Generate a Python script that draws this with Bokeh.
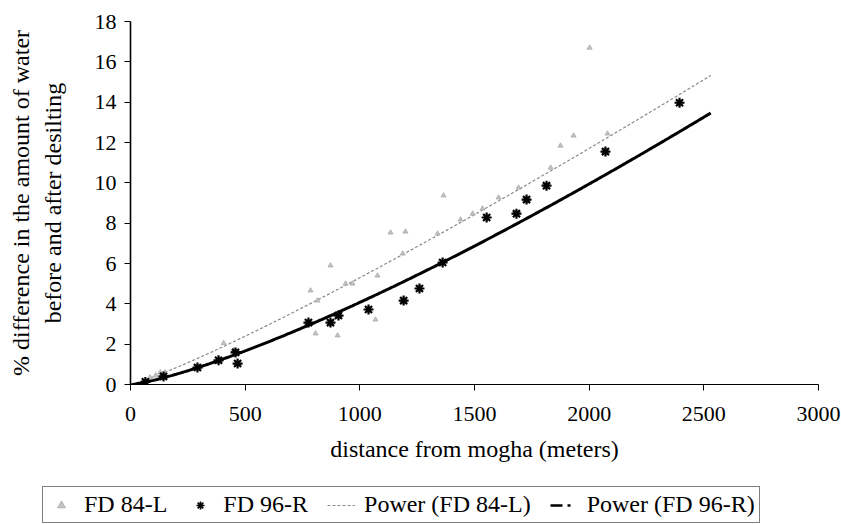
import numpy as np
from bokeh.plotting import figure
from bokeh.layouts import column
from bokeh.models import Range1d, FixedTicker, Legend, LegendItem
from bokeh.embed import file_html
from bokeh.resources import INLINE

# FD 84-L observations (distance m, % difference)
fd84_x = [85, 110, 130, 150, 406, 450, 785, 807, 815, 872, 903, 938, 968, 1068, 1077,
          1134, 1187, 1199, 1339, 1365, 1439, 1492, 1535, 1605, 1692, 1832, 1875, 1932, 2002, 2080]
fd84_y = [0.35, 0.45, 0.6, 0.6, 2.05, 1.7, 4.66, 2.53, 4.16, 5.9, 2.43, 5.0, 5.0, 3.22, 5.4,
          7.53, 6.49, 7.58, 7.48, 9.37, 8.18, 8.47, 8.72, 9.27, 9.76, 10.75, 11.84, 12.34, 16.7, 12.44]

# FD 96-R observations
fd96_x = [65, 144, 292, 384, 458, 467, 776, 872, 907, 1038, 1191, 1260, 1361,
          1553, 1683, 1727, 1814, 2071, 2394]
fd96_y = [0.13, 0.4, 0.84, 1.2, 1.59, 1.04, 3.07, 3.07, 3.42, 3.72, 4.16, 4.76, 6.05,
          8.28, 8.47, 9.17, 9.86, 11.55, 13.97]

x_ticks = [0, 500, 1000, 1500, 2000, 2500, 3000]
y_ticks = [0, 2, 4, 6, 8, 10, 12, 14, 16, 18]
trend_end = 2530
labels = ["FD 84-L", "FD 96-R", "Power (FD 84-L)", "Power (FD 96-R)"]

FONT = "Liberation Serif, Times New Roman, DejaVu Serif, serif"

STY84 = dict(marker="triangle", size=5, fill_color="#c4c4c4", line_color="#a8a8a8", line_width=0.8)
STY96 = dict(marker="asterisk", size=10, line_color="black", line_width=2.2)
LINE84 = dict(line_color="#8a8a8a", line_width=1.2, line_dash="3 2")


def power_fit(xs, ys):
    b, ln_a = np.polyfit(np.log(xs), np.log(ys), 1)
    xx = np.linspace(5, trend_end, 300)
    return xx, np.exp(ln_a) * xx ** b


p = figure(width=841, height=486, output_backend="svg", toolbar_location=None,
           x_range=Range1d(0, 3000), y_range=Range1d(0, 18),
           min_border_left=130, min_border_right=23, min_border_top=21, min_border_bottom=102)
p.frame_align = False
p.outline_line_color = None
p.grid.visible = False
p.background_fill_color = "white"

for ax in (p.xaxis[0], p.yaxis[0]):
    ax.axis_line_color = "black"
    ax.major_tick_line_color = "black"
    ax.major_tick_out = 6
    ax.major_tick_in = 0
    ax.minor_tick_line_color = None
    ax.major_label_text_font = FONT
    ax.major_label_text_font_size = "22px"
    ax.major_label_text_color = "black"
    ax.axis_label_text_font = FONT
    ax.axis_label_text_font_size = "24px"
    ax.axis_label_text_font_style = "normal"
    ax.axis_label_text_color = "black"

p.xaxis[0].axis_line_width = 1
p.yaxis[0].axis_line_width = 1.6
p.xaxis[0].ticker = FixedTicker(ticks=x_ticks)
p.yaxis[0].ticker = FixedTicker(ticks=y_ticks)
p.xaxis[0].axis_label = "distance from mogha (meters)"
p.yaxis[0].axis_label = "% difference in the amount of water\nbefore and after desilting"
p.yaxis[0].axis_label_text_line_height = 1.2
p.xaxis[0].major_label_standoff = 16
p.yaxis[0].major_label_standoff = 8
p.xaxis[0].axis_label_standoff = 12
p.yaxis[0].axis_label_standoff = 26

fx84, fy84 = power_fit(fd84_x, fd84_y)
fx96, fy96 = power_fit(fd96_x, fd96_y)

p.line(fx84, fy84, **LINE84)
p.line(fx96, fy96, line_color="black", line_width=3)
p.scatter(fd84_x, fd84_y, **STY84)
p.scatter(fd96_x, fd96_y, **STY96)

# ---- key strip beneath the chart ----
k = figure(width=841, height=38, output_backend="svg", toolbar_location=None,
           x_range=Range1d(0, 1), y_range=Range1d(0, 1), x_axis_type=None, y_axis_type=None,
           min_border=0)
k.frame_align = False
k.outline_line_color = None
k.grid.visible = False
nan2 = [np.nan, np.nan]
k84 = k.scatter(nan2, nan2, **STY84)
k96 = k.scatter(nan2, nan2, marker="asterisk", size=8, line_color="black", line_width=1.6)
kt84 = k.line(nan2, nan2, **LINE84)
kt96 = k.line(nan2, nan2, line_color="black", line_width=2.5, line_dash="12 5 3 8")

legend = Legend(items=[LegendItem(label=lab, renderers=[r])
                       for lab, r in zip(labels, [k84, k96, kt84, kt96])],
                orientation="horizontal", location=(42, 1))
legend.label_text_font = FONT
legend.label_text_font_size = "24px"
legend.label_text_color = "black"
legend.border_line_color = "black"
legend.border_line_width = 1
legend.background_fill_alpha = 1
legend.glyph_width = 28
legend.glyph_height = 20
legend.label_height = 20
legend.label_standoff = 9
legend.spacing = 19
legend.padding = 4
legend.margin = 0
k.add_layout(legend, "center")

open("out.html", "w").write(file_html(column(p, k, spacing=0), INLINE))
